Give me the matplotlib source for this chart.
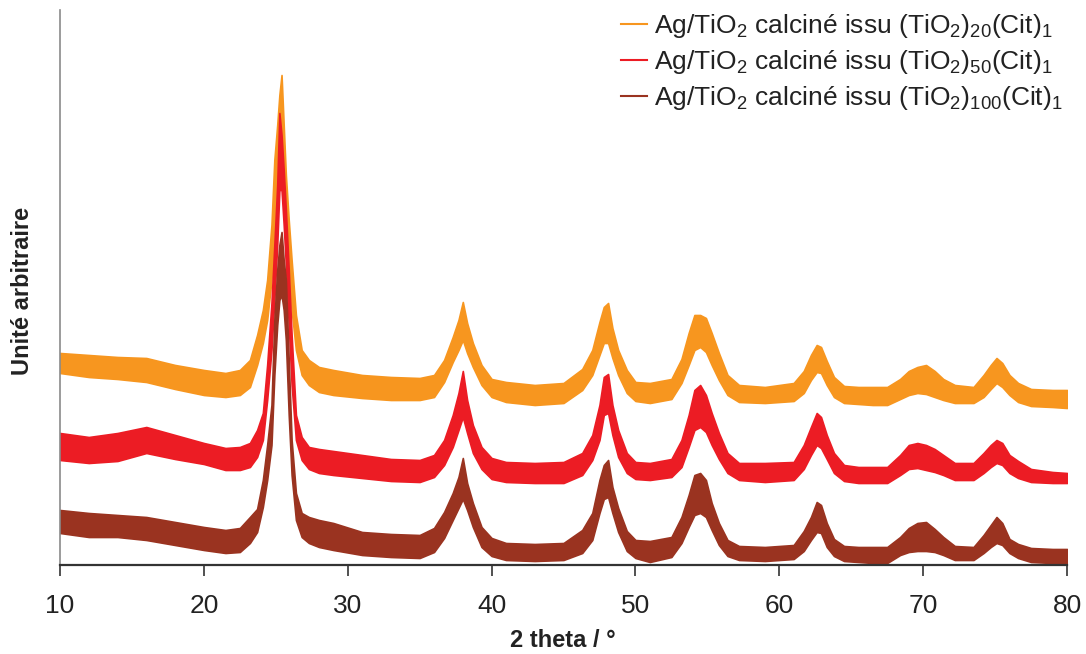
import matplotlib
matplotlib.use("Agg")
import matplotlib.pyplot as plt
from matplotlib.lines import Line2D
from matplotlib import font_manager

# ---- data (2theta knots; lower/upper envelope of the noisy traces, arbitrary units) ----
two_theta = [10, 12, 14, 16, 18, 20, 21.5,
             22.5, 23.2, 23.7, 24.1, 24.4, 24.7, 24.9, 25.1, 25.25, 25.4, 25.55, 25.7, 25.9,
             26.1, 26.4, 26.8, 27.3, 28.0, 29.0,
             31, 33, 35,
             36.0, 36.7, 37.3, 37.7, 38.0, 38.3, 38.7, 39.3, 40.0,
             41, 43, 45,
             46.3, 47.0, 47.5, 47.8, 48.1, 48.4, 48.8, 49.4, 50.0,
             51,
             52.5, 53.2, 53.7, 54.1, 54.5, 54.9, 55.3, 55.8, 56.4, 57.2,
             59,
             61.0, 61.7, 62.2, 62.6, 62.9, 63.3, 63.8, 64.5,
             65.5, 66.5,
             67.5, 68.4, 69.0, 69.6, 70.2, 70.8, 71.4, 72.2,
             73.5, 74.2, 74.7, 75.1, 75.5, 76.0, 76.6, 77.5,
             79, 80]

s20_lo = [192, 188, 186, 183, 176, 170, 168,
          170, 178, 200, 222, 245, 285, 330, 380, 410, 420, 390, 340, 290,
          255, 215, 190, 180, 173, 170,
          167, 165, 165,
          168, 183, 203, 215, 225, 212, 198, 180, 168,
          163, 160, 162,
          175, 190, 210, 222, 222, 207, 190, 172, 164,
          162,
          166, 182, 200, 215, 218, 213, 200, 185, 170, 163,
          162,
          164, 172, 185, 193, 192, 180, 168, 162,
          161, 160,
          160, 166, 170, 172, 171, 168, 165, 162,
          162, 168, 176, 182, 178, 170, 163, 159,
          158, 157]
s20_hi = [212, 210, 208, 207, 200, 195, 192,
          195, 205, 230, 255, 285, 340, 405, 440, 470, 490, 440, 390, 345,
          305, 250, 215, 205, 198, 195,
          190, 188, 187,
          190, 205, 228, 245, 263, 242, 222, 200, 186,
          183, 180, 182,
          196, 215, 243, 258, 262, 237, 215, 195, 183,
          182,
          186, 206, 232, 250, 250, 247, 232, 212, 190, 180,
          178,
          182, 194, 210, 220, 218, 204, 188, 179,
          178, 178,
          178, 186, 194, 198, 200, 194, 186, 180,
          178, 190, 200, 207, 202, 190, 182, 176,
          175, 175]

s50_lo = [105, 102, 104, 112, 106, 101, 95,
          95, 98, 108, 125, 165, 215, 265, 320, 375, 375, 340, 300, 240,
          180, 125, 105, 96, 92, 90,
          87, 84, 83,
          88, 100, 118, 135, 148, 132, 112, 96, 86,
          83, 82, 82,
          90, 105, 125, 150, 152, 130, 108, 92, 86,
          85,
          88, 98, 118, 135, 138, 133, 120, 106, 92, 85,
          83,
          85, 96, 110, 120, 117, 106, 92, 84,
          82, 82,
          82, 90, 96, 97, 95, 93, 90, 85,
          85, 92, 98, 102, 100, 92, 87, 83,
          82, 82]
s50_hi = [132, 128, 132, 138, 130, 122, 117,
          118, 122, 135, 152, 200, 262, 320, 380, 452, 430, 395, 355, 295,
          230, 150, 128, 118, 116, 114,
          110, 106, 105,
          110, 125, 150, 172, 194, 165, 140, 118, 107,
          103, 102, 103,
          112, 130, 160, 188, 191, 160, 135, 112, 103,
          102,
          106, 125, 150, 175, 180, 170, 152, 132, 112, 102,
          102,
          103, 120, 138, 152, 148, 130, 112, 100,
          98, 98,
          98, 110, 120, 122, 120, 116, 110, 102,
          102, 112, 120, 125, 122, 110, 104, 96,
          93, 92]

s100_lo = [32, 28, 28, 25, 20, 15, 12,
           13, 22, 33, 58, 85, 120, 190, 240, 265, 270, 255, 225, 150,
           90, 45, 28, 22, 18, 15,
           10, 8, 7,
           13, 27, 45, 57, 66, 55, 38, 18, 9,
           5, 4, 5,
           12, 25, 52, 66, 68, 52, 33, 14, 7,
           3,
           8, 22, 38, 50, 52, 48, 35, 20, 9, 5,
           4,
           6, 14, 25, 33, 32, 18, 9, 4,
           3, 2,
           2, 10, 13, 14, 14, 13, 10, 5,
           5, 12, 18, 22, 20, 12, 7, 3,
           2, 2]
s100_hi = [55, 52, 50, 48, 43, 38, 35,
           37, 48, 56, 85, 120, 160, 245, 295, 320, 333, 305, 285, 205,
           125, 72, 52, 48, 45, 42,
           33, 31, 30,
           37, 53, 72, 88, 107, 82, 62, 38, 27,
           22, 21, 22,
           35, 52, 85, 100, 105, 78, 57, 34, 25,
           24,
           28, 48, 70, 90, 92, 85, 62, 42, 25, 19,
           18,
           20, 34, 48, 63, 60, 42, 26, 19,
           18, 18,
           18, 28, 37, 42, 43, 36, 28, 19,
           18, 30, 40, 48, 42, 26, 21, 17,
           16, 16]

labels = [r"Ag/TiO$_\mathregular{2}$ calciné issu (TiO$_\mathregular{2}$)$_\mathregular{20}$(Cit)$_\mathregular{1}$",
          r"Ag/TiO$_\mathregular{2}$ calciné issu (TiO$_\mathregular{2}$)$_\mathregular{50}$(Cit)$_\mathregular{1}$",
          r"Ag/TiO$_\mathregular{2}$ calciné issu (TiO$_\mathregular{2}$)$_\mathregular{100}$(Cit)$_\mathregular{1}$"]
colors = ["#F7961F", "#EC1C24", "#9A3320"]
x_ticks = [10, 20, 30, 40, 50, 60, 70, 80]

# ---- style ----
avail = {f.name for f in font_manager.fontManager.ttflist}
main_font = "Liberation Sans" if "Liberation Sans" in avail else "DejaVu Sans"
narrow_font = "Liberation Sans Narrow" if "Liberation Sans Narrow" in avail else main_font
tick_size = 20 if narrow_font != main_font else 19
plt.rcParams["font.family"] = [main_font, "DejaVu Sans"]
plt.rcParams["mathtext.fontset"] = "custom"
plt.rcParams["mathtext.rm"] = main_font
plt.rcParams["mathtext.it"] = main_font + ":italic"
plt.rcParams["mathtext.bf"] = main_font + ":bold"

fig = plt.figure(figsize=(10.86, 6.54), dpi=100)
ax = fig.add_axes([60 / 1086, 89 / 654, 1007 / 1086, 555 / 654])

series = [(s20_lo, s20_hi), (s50_lo, s50_hi), (s100_lo, s100_hi)]
for (lo, hi), c in zip(series, colors):
    ax.fill_between(two_theta, lo, hi, color=c, lw=1.2, edgecolor=c)

ax.set_xlim(10, 80)
ax.set_ylim(0, 555)
ax.set_xticks(x_ticks)
ax.set_xticklabels([str(t) for t in x_ticks], fontsize=tick_size, family=[narrow_font, "DejaVu Sans"])
ax.set_yticks([])
ax.tick_params(axis="x", direction="out", length=8, width=1.2, color="#333333", pad=13, labelcolor="#222222")

for s in ("top", "right"):
    ax.spines[s].set_visible(False)
ax.spines["left"].set_color("#8a8a8a")
ax.spines["left"].set_linewidth(1.2)
ax.spines["bottom"].set_color("#333333")
ax.spines["bottom"].set_linewidth(1.6)

ax.set_xlabel("2 theta / °", fontsize=17, fontweight="bold", color="#222222")
ax.xaxis.label.set_verticalalignment("center")
ax.xaxis.set_label_coords(0.499, -0.136)
ax.set_ylabel("Unité arbitraire", fontsize=17, fontweight="bold", color="#222222")
ax.yaxis.label.set_verticalalignment("center")
ax.yaxis.set_label_coords(-0.0377, 0.494)

handles = [Line2D([0], [0], color=c, lw=1.5) for c in colors]
leg = ax.legend(handles, labels, loc="upper right", bbox_to_anchor=(0.996, 0.996),
                frameon=False, fontsize=19, handlelength=1.0, handletextpad=0.27,
                labelspacing=0.3, borderaxespad=0.0, borderpad=0.0)
for t in leg.get_texts():
    t.set_color("#222222")

fig.savefig("out.png", dpi=100)
